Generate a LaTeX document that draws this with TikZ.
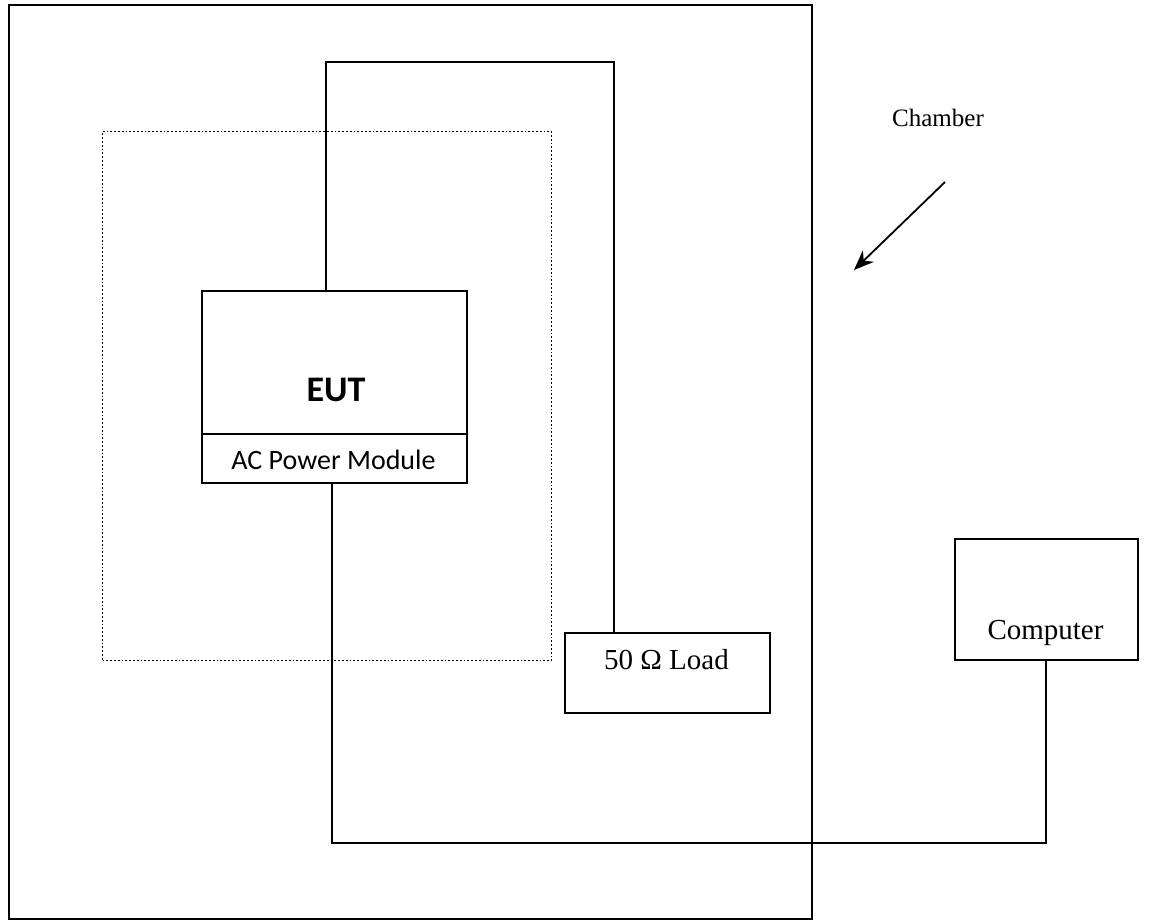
\documentclass[tikz,border=0pt]{standalone}
\usepackage{fontspec}
\setmainfont{Liberation Serif}
\newfontfamily\calib{Carlito}
\usetikzlibrary{arrows.meta,calc}
\begin{document}
\begin{tikzpicture}[x=1pt,y=-1pt,
  wire/.style={line width=2pt},
  boxn/.style={draw,line width=1.8pt,inner sep=0pt,anchor=north west},
  txt/.style={inner sep=0pt,font=\fontsize{29}{33}\selectfont}]
\useasboundingbox (0,0) rectangle (1151,922);
% chamber
\node[boxn,line width=1.7pt,minimum width=803pt,minimum height=914pt] (chamber) at (8,4) {};
% dotted area
\node[boxn,dotted,line width=1.3pt,minimum width=449pt,minimum height=529pt] (area) at (102,131) {};
% EUT
\node[boxn,minimum width=265pt,minimum height=143pt] (eut) at (201,290) {};
\node[txt,font=\calib\bfseries\fontsize{36}{40}\selectfont] (euttxt) at (336,390) {EUT};
\node[boxn,minimum width=265pt,minimum height=49pt] (ac) at (201,433) {};
\node[txt,font=\calib\fontsize{28}{32}\selectfont] (actxt) at (333.5,460) {AC Power Module};
% load
\node[boxn,minimum width=205pt,minimum height=80pt] (load) at (564,632) {};
\node[txt] (loadtxt) at (666.5,660) {50 Ω Load};
% computer
\node[boxn,minimum width=183pt,minimum height=121pt] (comp) at (954,538) {};
\node[txt] (comptxt) at (1045.5,633) {Computer};
% chamber label
\node[txt,font=\fontsize{25}{29}\selectfont] (chtxt) at (938,118) {Chamber};
\coordinate (arS) at (945,182);
\coordinate (arE) at (854,270);
\draw[line width=1.8pt,-{Stealth[length=20pt,width=16pt]}] (arS) -- (arE);
% wires
\coordinate (tl) at (326,62);
\coordinate (tr) at (614,62);
\coordinate (bl) at (332,843);
\coordinate (br) at (1046,843);
\draw[wire] (eut.north -| tl) -- (tl) -- (tr) -- (load.north -| tr);
\draw[wire] (ac.south -| bl) -- (bl) -- (br) -- (comp.south -| br);
\end{tikzpicture}
\end{document}
